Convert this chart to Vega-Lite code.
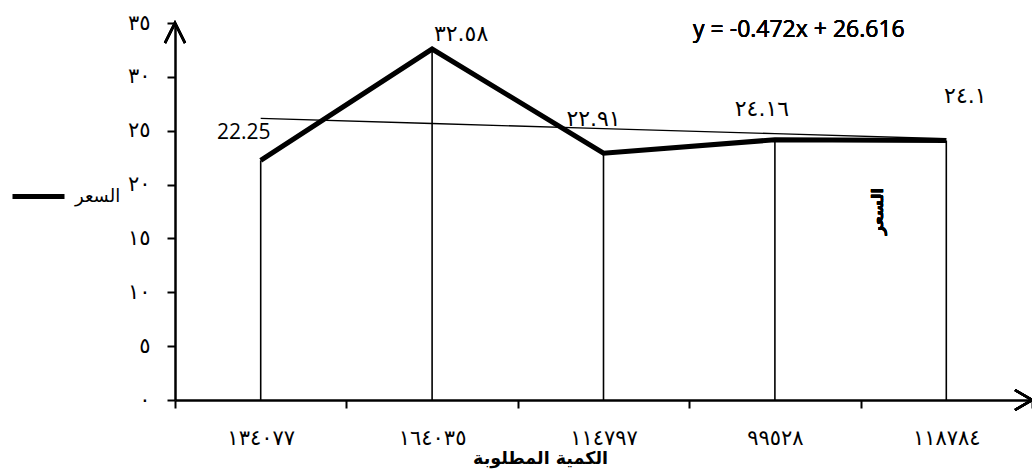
{
  "$schema": "https://vega.github.io/schema/vega-lite/v6.json",
  "autosize": "none",
  "width": 857,
  "height": 377,
  "padding": {"left": 175, "top": 23, "right": 0, "bottom": 70},
  "background": "white",
  "config": {
    "view": {"stroke": null},
    "locale": {"number": {"decimal": ".", "thousands": ",", "grouping": [3], "currency": ["", ""], "numerals": ["٠", "١", "٢", "٣", "٤", "٥", "٦", "٧", "٨", "٩"]}},
    "axis": {"domainColor": "black", "tickColor": "black", "labelColor": "black", "titleColor": "black", "grid": false}
  },
  "data": {"values": [
    {"q": "١٣٤٠٧٧", "i": 1, "price": 22.25, "trend": 26.144, "label": "22.25"},
    {"q": "١٦٤٠٣٥", "i": 2, "price": 32.58, "trend": 25.672, "label": "٣٢.٥٨"},
    {"q": "١١٤٧٩٧", "i": 3, "price": 22.91, "trend": 25.2, "label": "٢٢.٩١"},
    {"q": "٩٩٥٢٨", "i": 4, "price": 24.16, "trend": 24.728, "label": "٢٤.١٦"},
    {"q": "١١٨٧٨٤", "i": 5, "price": 24.1, "trend": 24.256, "label": "٢٤.١"}
  ]},
  "encoding": {
    "x": {"field": "q", "type": "nominal", "sort": null,
      "scale": {"type": "band", "paddingInner": 0, "paddingOuter": 0},
      "axis": {"title": "الكمية المطلوبة", "titleFont": "DejaVu Sans", "titleFontSize": 17.5, "titleFontWeight": "bold", "titleX": 365, "titleY": 49,
        "tickBand": "extent", "labelAngle": 0, "labelFont": "DejaVu Sans", "labelFontSize": 21, "labelPadding": 19, "labelFontWeight": "normal",
        "tickSize": 8, "tickWidth": 2, "domainWidth": 2.5}
    }
  },
  "layer": [
    {"mark": {"type": "rule", "color": "black", "strokeWidth": 1.6},
     "encoding": {"y": {"field": "price", "type": "quantitative",
        "scale": {"domain": [0, 35], "nice": false, "zero": true},
        "axis": {"title": null, "values": [0, 5, 10, 15, 20, 25, 30, 35], "labelFont": "DejaVu Sans", "labelFontSize": 21, "labelPadding": 17, "tickSize": 8, "tickWidth": 2, "domainWidth": 2.5}},
      "y2": {"datum": 0}}},
    {"mark": {"type": "line", "color": "black", "strokeWidth": 1.3},
     "encoding": {"y": {"field": "trend", "type": "quantitative"}, "order": {"field": "i"}}},
    {"mark": {"type": "line", "strokeWidth": 5, "strokeJoin": "miter"},
     "encoding": {"y": {"field": "price", "type": "quantitative"}, "order": {"field": "i"},
       "color": {"datum": "السعر", "scale": {"range": ["black"]},
         "legend": {"title": null, "orient": "none", "legendX": -165, "legendY": 145, "symbolType": "stroke", "symbolSize": 2704, "symbolStrokeWidth": 5, "labelFont": "DejaVu Sans", "labelFontSize": 18, "labelColor": "black", "labelOffset": 8}}}},
    {"transform": [{"filter": "datum.i == 1"}],
     "mark": {"type": "text", "font": "Open Sans", "fontSize": 21, "fontWeight": "normal", "color": "black", "dx": -17, "dy": -27},
     "encoding": {"y": {"field": "price", "type": "quantitative"}, "text": {"field": "label"}}},
    {"transform": [{"filter": "datum.i == 2"}],
     "mark": {"type": "text", "font": "DejaVu Sans", "fontSize": 22, "color": "black", "dx": 29, "dy": -15},
     "encoding": {"y": {"field": "price", "type": "quantitative"}, "text": {"field": "label"}}},
    {"transform": [{"filter": "datum.i == 3"}],
     "mark": {"type": "text", "font": "DejaVu Sans", "fontSize": 22, "color": "black", "dx": -10, "dy": -34},
     "encoding": {"y": {"field": "price", "type": "quantitative"}, "text": {"field": "label"}}},
    {"transform": [{"filter": "datum.i == 4"}],
     "mark": {"type": "text", "font": "DejaVu Sans", "fontSize": 22, "color": "black", "dx": -13, "dy": -31},
     "encoding": {"y": {"field": "price", "type": "quantitative"}, "text": {"field": "label"}}},
    {"transform": [{"filter": "datum.i == 5"}],
     "mark": {"type": "text", "font": "DejaVu Sans", "fontSize": 22, "color": "black", "dx": 19, "dy": -44},
     "encoding": {"y": {"field": "price", "type": "quantitative"}, "text": {"field": "label"}}},
    {"mark": {"type": "text", "font": "Open Sans", "fontSize": 23, "fontWeight": 400, "color": "black", "dx": 24, "dy": 7, "text": "y = -0.472x + 26.616"},
     "encoding": {"x": {"datum": "٩٩٥٢٨"}, "y": {"datum": 35}}},
    {"mark": {"type": "text", "font": "DejaVu Sans", "fontSize": 16, "fontWeight": "bold", "color": "black", "angle": 270, "dy": 103, "text": "السعر"},
     "encoding": {"x": {"datum": "٩٩٥٢٨"}, "y": {"datum": 17.5}}},
    {"mark": {"type": "point", "shape": "M -0.5 1 L 0 0 L 0.5 1", "size": 1600, "filled": false, "color": "black", "strokeWidth": 2.5, "opacity": 1},
     "encoding": {"x": {"datum": "١٣٤٠٧٧", "bandPosition": 0}, "y": {"datum": 35}}},
    {"mark": {"type": "point", "shape": "M -0.85 -0.5 L 0 0 L -0.85 0.5", "size": 1600, "filled": false, "color": "black", "strokeWidth": 2.5, "opacity": 1},
     "encoding": {"x": {"datum": "١١٨٧٨٤", "bandPosition": 1}, "y": {"datum": 0}}}
  ]
}
